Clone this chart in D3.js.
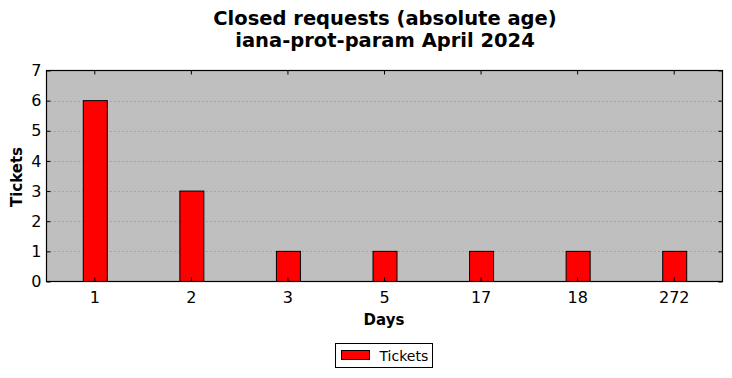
<!DOCTYPE html>
<html>
<head>
<meta charset="utf-8">
<script src="https://cdn.jsdelivr.net/npm/d3@7"></script>
<style>
  body { margin: 0; background: #fff; }
  svg { font-family: "DejaVu Sans", sans-serif; }
</style>
</head>
<body>
<svg width="732" height="378"></svg>
<script>
// chart data
const days = ["1", "2", "3", "5", "17", "18", "272"];
const tickets = [6, 3, 1, 1, 1, 1, 1];
const yTicks = [0, 1, 2, 3, 4, 5, 6, 7];

const margin = {left: 46.5, right: 9.5, top: 70.5, bottom: 96.5};
const width = 732, height = 378;
const svg = d3.select("svg");

const x = d3.scaleBand()
            .domain(days)
            .range([margin.left, width - margin.right]);
const y = d3.scaleLinear()
            .domain([0, 7])
            .range([height - margin.bottom, margin.top]);

const plotW = width - margin.left - margin.right;
const plotH = height - margin.top - margin.bottom;

// plot background
svg.append("rect")
   .attr("x", margin.left).attr("y", margin.top)
   .attr("width", plotW).attr("height", plotH)
   .attr("fill", "#bfbfbf");

// dotted grid
svg.append("g")
   .selectAll("line")
   .data(yTicks.slice(1, -1))
   .enter().append("line")
   .attr("x1", margin.left).attr("x2", width - margin.right)
   .attr("y1", d => Math.round(y(d)) + 0.5).attr("y2", d => Math.round(y(d)) + 0.5)
   .attr("stroke", "#8a8a8a")
   .attr("stroke-dasharray", "1,3");

// bars
const barW = 24;
svg.append("g")
   .selectAll("rect")
   .data(days)
   .enter().append("rect")
   .attr("x", d => x(d) + x.bandwidth() / 2 - barW / 2 + 0.5)
   .attr("y", (d, i) => y(tickets[i]))
   .attr("width", barW)
   .attr("height", (d, i) => y(0) - y(tickets[i]))
   .attr("fill", "#ff0000")
   .attr("stroke", "#000")
   .attr("stroke-width", 1);

// axes, ticks drawn inward like matplotlib classic
const fs = "16px";
const axBottom = svg.append("g")
   .attr("transform", `translate(0,${height - margin.bottom})`)
   .call(d3.axisBottom(x).tickSizeInner(-4).tickSizeOuter(0).tickPadding(10));
const axTop = svg.append("g")
   .attr("transform", `translate(0,${margin.top})`)
   .call(d3.axisTop(x).tickSizeInner(-4).tickSizeOuter(0).tickFormat(""));
const axLeft = svg.append("g")
   .attr("transform", `translate(${margin.left},0)`)
   .call(d3.axisLeft(y).tickValues(yTicks).tickFormat(d3.format("d"))
           .tickSizeInner(-4).tickSizeOuter(0).tickPadding(5));
const axRight = svg.append("g")
   .attr("transform", `translate(${width - margin.right},0)`)
   .call(d3.axisRight(y).tickValues(yTicks).tickSizeInner(-4).tickSizeOuter(0).tickFormat(""));

[axBottom, axTop, axLeft, axRight].forEach(g => {
  g.select(".domain").remove();
  g.selectAll(".tick line").attr("stroke", "#000");
  g.selectAll("text").attr("font-size", fs).attr("fill", "#000")
   .attr("font-family", "DejaVu Sans, sans-serif");
});

// frame
svg.append("rect")
   .attr("x", margin.left).attr("y", margin.top)
   .attr("width", plotW).attr("height", plotH)
   .attr("fill", "none").attr("stroke", "#000").attr("stroke-width", 1.2);

// titles
const title = svg.append("text")
   .attr("text-anchor", "middle")
   .attr("font-size", "19.5px").attr("font-weight", "bold");
title.append("tspan").attr("x", 385).attr("y", 25).text("Closed requests (absolute age)");
title.append("tspan").attr("x", 385).attr("y", 47).text("iana-prot-param April 2024");

svg.append("text")
   .attr("x", 384).attr("y", 325)
   .attr("text-anchor", "middle")
   .attr("font-size", "15px").attr("font-weight", "bold")
   .text("Days");

svg.append("text")
   .attr("transform", "translate(22,177) rotate(-90)")
   .attr("text-anchor", "middle")
   .attr("font-size", "15px").attr("font-weight", "bold")
   .text("Tickets");

// legend
const lg = svg.append("g").attr("transform", "translate(335.5,343.5)");
lg.append("rect").attr("width", 97).attr("height", 24)
  .attr("fill", "#fff").attr("stroke", "#000");
lg.append("rect").attr("x", 6).attr("y", 7).attr("width", 28).attr("height", 9)
  .attr("fill", "#ff0000").attr("stroke", "#000");
lg.append("text").attr("x", 44).attr("y", 17)
  .attr("font-size", "14px").text("Tickets");
</script>
</body>
</html>
